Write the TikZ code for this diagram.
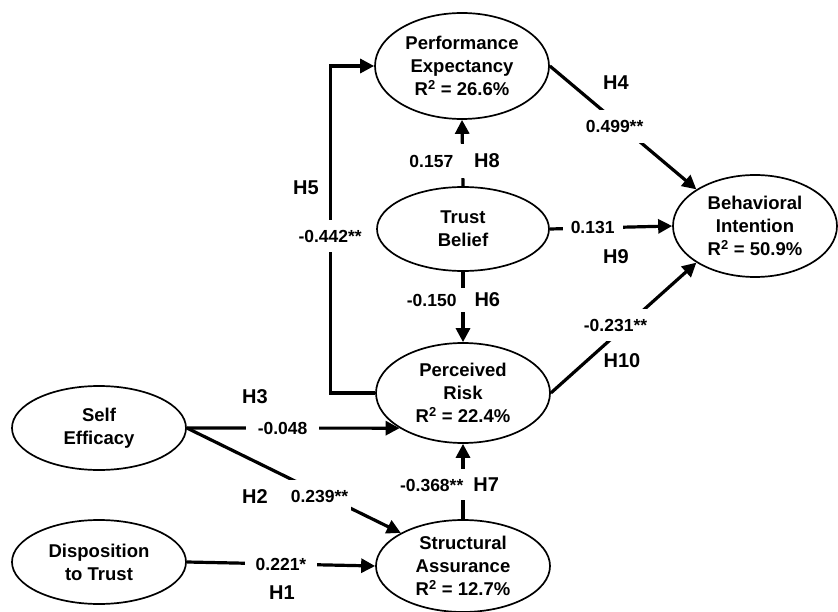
\documentclass[tikz,border=0pt]{standalone}
\usepackage{fontspec}
\setmainfont{Liberation Sans}
\usetikzlibrary{shapes.geometric,arrows.meta}
\newcommand\hypfnt{\fontsize{20}{24}\selectfont}
\begin{document}
\begin{tikzpicture}[x=1pt,y=-1pt,
  latent/.style={ellipse, draw, line width=1.7pt, inner sep=0pt, align=center,
    font=\bfseries\fontsize{18.5}{23}\selectfont, minimum width=174pt},
  conn/.style={line width=3.2pt, -{Triangle[length=14pt,width=14pt]}},
  val/.style={fill=white, inner xsep=3pt, inner ysep=10pt,
    font=\bfseries\fontsize{17.5}{20}\selectfont},
  hval/.style={val, inner xsep=10pt, inner ysep=3pt},
  hyp/.style={font=\bfseries\hypfnt, inner sep=0pt},
]
\useasboundingbox (0,0) rectangle (838,612);

% latent constructs
\node[latent, minimum height=106pt] (PE) at (462,66) {Performance\\Expectancy\\R\textsuperscript{2} = 26.6\%};
\node[latent, minimum width=172pt, minimum height=84pt] (TB) at (463,229) {Trust\\Belief};
\node[latent, minimum width=164pt, minimum height=102pt] (BI) at (755,226) {Behavioral\\Intention\\R\textsuperscript{2} = 50.9\%};
\node[latent, minimum height=100pt] (PR) at (463,393) {Perceived\\Risk\\R\textsuperscript{2} = 22.4\%};
\node[latent, minimum height=92pt] (SA) at (463,566) {Structural\\Assurance\\R\textsuperscript{2} = 12.7\%};
\node[latent, minimum height=84pt] (SE) at (99,428) {Self\\Efficacy};
\node[latent, minimum height=84pt] (DT) at (99,562) {Disposition\\to Trust};

% paths
\draw[conn] (PR.west) -- ++(-45,0) |- node[val, pos=0.24, inner xsep=2pt] {-0.442**} (PE.west);
\draw[conn] (PE.east) -- node[val, pos=0.49, xshift=-7pt] {0.499**} (BI.148);
\draw[conn] (TB.east) -- node[hval, pos=0.35, inner xsep=8pt] {0.131} (BI.west);
\draw[conn] (PR.east) -- node[val, pos=0.52, xshift=-11pt] {-0.231**} (BI.212);
\draw[conn] (TB.north) -- node[val, pos=0.38, xshift=-8pt, inner ysep=10pt] {0.157\hspace{21pt}{\hypfnt H8}} (PE.south);
\draw[conn] (TB.south) -- node[val, pos=0.40, xshift=-9.5pt, inner ysep=5pt] {-0.150\hspace{18pt}{\hypfnt H6}} (PR.north);
\draw[conn] (SA.north) -- node[val, pos=0.46, xshift=-13.5pt, inner ysep=9pt] {-0.368**\hspace{10pt}{\hypfnt H7}} (PR.south);
\draw[conn] (SE.east) -- node[hval, pos=0.45, inner xsep=12pt] {-0.048} (PR.209);
\draw[conn] (SE.east) -- node[val, pos=0.62, yshift=-3pt] {0.239**} (SA.152);
\draw[conn] (DT.east) -- node[hval, pos=0.5, inner xsep=11pt] {0.221*} (SA.west);

% hypothesis labels
\node[hyp] (h5) at (306,188) {H5};
\node[hyp] (h4) at (616,83) {H4};
\node[hyp] (h9) at (616,257) {H9};
\node[hyp] (h10) at (622,361) {H10};
\node[hyp] (h3) at (255,397) {H3};
\node[hyp] (h2) at (255,497) {H2};
\node[hyp] (h1) at (282,593) {H1};
\end{tikzpicture}
\end{document}
